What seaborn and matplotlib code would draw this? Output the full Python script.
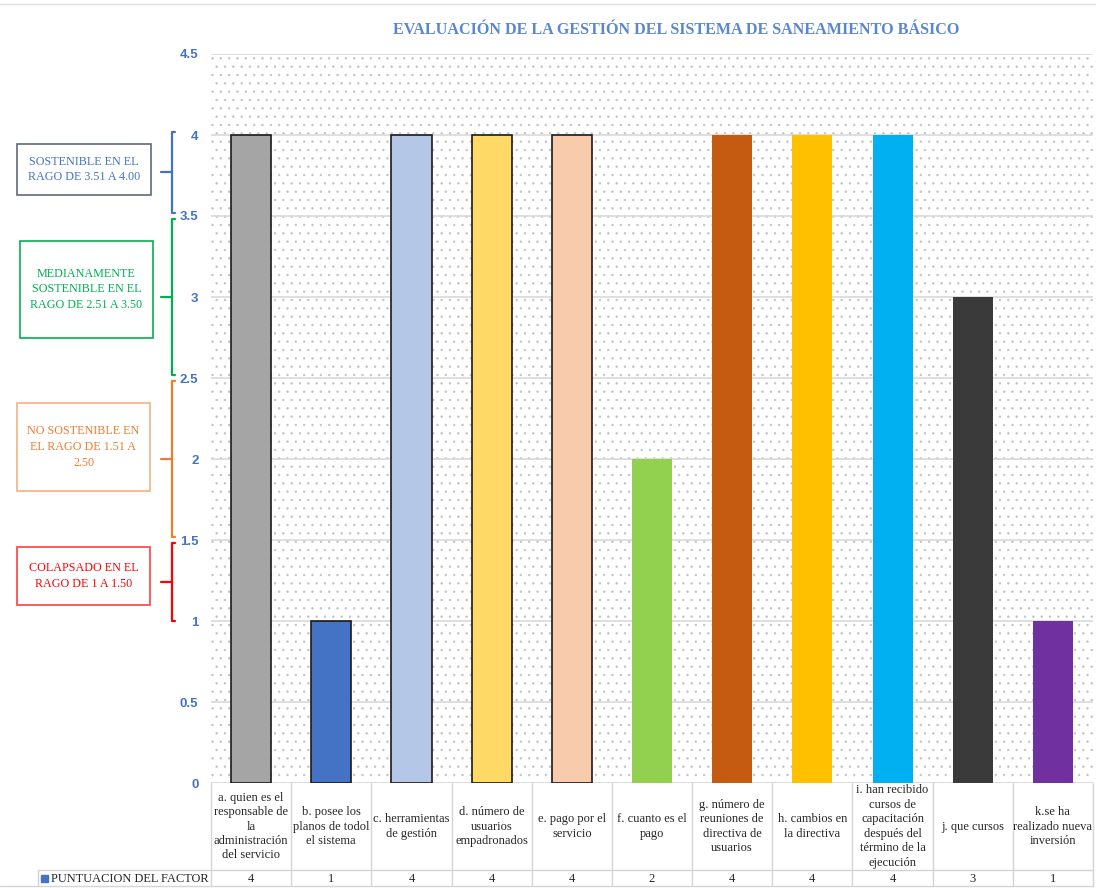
import matplotlib
matplotlib.use("Agg")
import matplotlib.pyplot as plt
import matplotlib.patches as mpatches
import matplotlib.transforms as mtransforms
from matplotlib.lines import Line2D
import seaborn as sns
import pandas as pd

# ---- data ----
categories = [
    "a. quien es el\nresponsable de\nla\nadministración\ndel servicio",
    "b. posee los\nplanos de todol\nel sistema",
    "c. herramientas\nde gestión",
    "d. número de\nusuarios\nempadronados",
    "e. pago por el\nservicio",
    "f. cuanto es el\npago",
    "g. número de\nreuniones de\ndirectiva de\nusuarios",
    "h. cambios en\nla directiva",
    "i. han recibido\ncursos de\ncapacitación\ndespués del\ntérmino de la\nejecución",
    "j. que cursos",
    "k.se ha\nrealizado nueva\ninversión",
]
scores = [4, 1, 4, 4, 4, 2, 4, 4, 4, 3, 1]
bar_colors = ["#A5A5A5", "#4472C4", "#B4C7E7", "#FFD966", "#F8CBAD", "#92D050",
              "#C55A11", "#FFC000", "#00B0F0", "#3A3A3A", "#7030A0"]
outlined = [True, True, True, True, True, False, False, False, False, False, False]
series_name = "PUNTUACION DEL FACTOR"
title = "EVALUACIÓN DE LA GESTIÓN DEL SISTEMA DE SANEAMIENTO BÁSICO"
y_ticks = [0, 0.5, 1, 1.5, 2, 2.5, 3, 3.5, 4, 4.5]

# rating bands
band_texts = ["SOSTENIBLE EN EL\nRAGO DE 3.51 A 4.00",
              "MEDIANAMENTE\nSOSTENIBLE EN EL\nRAGO DE 2.51 A 3.50",
              "NO SOSTENIBLE EN\nEL RAGO DE 1.51 A\n2.50",
              "COLAPSADO EN EL\nRAGO DE 1 A 1.50"]
band_low = [3.52, 2.52, 1.52, 1.0]
band_high = [4.02, 3.48, 2.48, 1.48]
band_text_colors = ["#4472C4", "#00B050", "#ED7D31", "#FF0000"]
band_edge_colors = ["#5F6B7A", "#00B050", "#F4B183", "#FF4040"]
band_bracket_colors = ["#4472C4", "#00B050", "#ED7D31", "#FF0000"]

df = pd.DataFrame({"cat": categories, "score": scores})

W, H = 1096, 888
sns.set_theme(style="white")
plt.rcParams["hatch.color"] = "#C2C2C2"
plt.rcParams["hatch.linewidth"] = 0.5
serif = ["Liberation Serif", "DejaVu Serif"]
sans = ["Liberation Sans", "DejaVu Sans"]

fig = plt.figure(figsize=(W / 100, H / 100), dpi=100)
fig.patch.set_facecolor("white")

ax_left, ax_right, ax_top, ax_bottom = 211, 1093, 54, 783
ax = fig.add_axes([ax_left / W, 1 - ax_bottom / H,
                   (ax_right - ax_left) / W, (ax_bottom - ax_top) / H])

# dotted plot background
bg = mpatches.Rectangle((0, 0), 1, 1, transform=ax.transAxes, facecolor="white",
                        edgecolor="#C2C2C2", hatch="..", linewidth=0, zorder=0)
ax.add_patch(bg)

sns.barplot(data=df, x="cat", y="score", hue="cat", palette=bar_colors,
            legend=False, width=0.5, ax=ax, zorder=3, saturation=1)
bars = [p for p in ax.patches if p is not bg]
for patch, edge in zip(bars, outlined):
    if edge:
        patch.set_edgecolor("#1A1A1A")
        patch.set_linewidth(1.2)
    else:
        patch.set_linewidth(0)

ax.set_ylim(0, 4.5)
ax.set_xlim(-0.5, len(categories) - 0.5)
ax.set_yticks(y_ticks)
ax.set_yticklabels([f"{t:g}" for t in y_ticks], color="#4472C4",
                   fontweight="bold", family=sans, fontsize=9.5)
ax.tick_params(axis="y", length=0, pad=9)
ax.set_xticks([])
ax.set_xlabel("")
ax.set_ylabel("")
for s in ax.spines.values():
    s.set_visible(False)
for t in y_ticks:
    ax.axhline(t, color="#D9D9D9", lw=1.2, zorder=1)

# title
fig.text(676 / W, 1 - 30 / H, title, ha="center", va="center", color="#5B87D0",
         fontsize=11.6, fontweight="bold", family=serif)
fig.add_artist(Line2D([0, 1], [1 - 4 / H, 1 - 4 / H], color="#E0E0E0", lw=1))

# data table under the axis
tr_x = mtransforms.blended_transform_factory(ax.transData, fig.transFigure)
def fy(y):
    return 1 - y / H

row_split, row_bottom = 870, 886
line_c = "#D4D4D4"
for i in range(len(categories) + 1):
    fig.add_artist(Line2D([i - 0.5, i - 0.5], [fy(ax_bottom), fy(row_bottom)],
                          transform=tr_x, color=line_c, lw=1))
fig.add_artist(Line2D([38 / W, ax_right / W], [fy(row_split), fy(row_split)],
                      color=line_c, lw=1))
fig.add_artist(Line2D([0, ax_right / W], [fy(row_bottom), fy(row_bottom)],
                      color=line_c, lw=1))
fig.add_artist(Line2D([38 / W, 38 / W], [fy(row_split), fy(row_bottom)],
                      color=line_c, lw=1))
for i, (lab, v) in enumerate(zip(categories, scores)):
    fig.text(i, fy((ax_bottom + row_split) / 2), lab, transform=tr_x,
             ha="center", va="center", fontsize=9.0, family=serif,
             color="#262626", linespacing=1.27)
    fig.text(i, fy(879), f"{v:g}", transform=tr_x, ha="center",
             va="center", fontsize=9.0, family=serif, color="#262626")
fig.add_artist(mpatches.Rectangle((41 / W, fy(882)), 7 / W, 7 / H,
                                  transform=fig.transFigure, color="#4472C4"))
fig.text(51 / W, fy(879), series_name, ha="left", va="center", fontsize=8.9,
         family=serif, color="#262626")

# rating bands: boxes and brackets on the left
tr_y = mtransforms.blended_transform_factory(fig.transFigure, ax.transData)
box_px = [(17, 144, 151, 195), (20, 241, 153, 338), (17, 403, 150, 491), (17, 547, 150, 605)]
bracket_x = 172
for txt, lo, hi, tc, ec, bc, (x0, y0, x1, y1) in zip(
        band_texts, band_low, band_high, band_text_colors, band_edge_colors,
        band_bracket_colors, box_px):
    fig.add_artist(mpatches.Rectangle((x0 / W, fy(y1)), (x1 - x0) / W, (y1 - y0) / H,
                                      transform=fig.transFigure, facecolor="white",
                                      edgecolor=ec, lw=1.2))
    fig.text((x0 + x1) / 2 / W, fy((y0 + y1) / 2), txt, ha="center", va="center",
             color=tc, fontsize=8.7, family=serif, linespacing=1.4)
    bx = bracket_x / W
    hook = 3 / W
    mid = (lo + hi) / 2
    fig.add_artist(Line2D([bx + hook, bx, bx, bx + hook], [hi, hi, lo, lo],
                          transform=tr_y, color=bc, lw=1.6, solid_joinstyle="round"))
    fig.add_artist(Line2D([bx - 11 / W, bx], [mid, mid], transform=tr_y,
                          color=bc, lw=1.6))

fig.savefig("out.png", dpi=100, facecolor="white")
